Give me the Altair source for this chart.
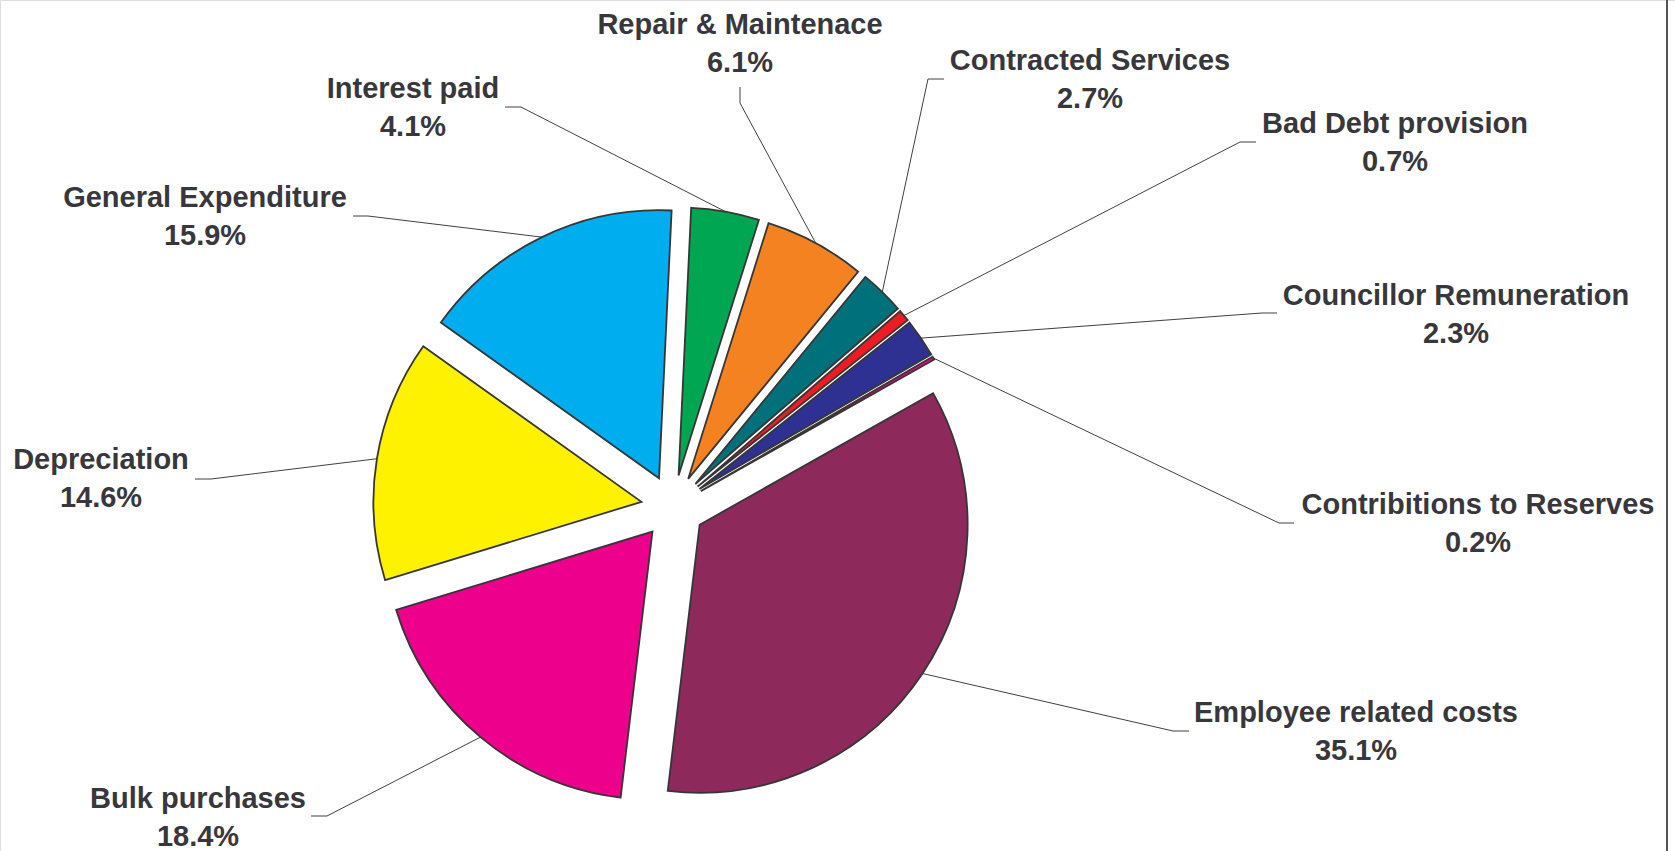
import altair as alt
import pandas as pd

# Expenditure categories, clockwise from twelve o'clock, and their shares (%)
categories = [
    "Interest paid",
    "Repair & Maintenace",
    "Contracted Services",
    "Bad Debt provision",
    "Councillor Remuneration",
    "Contribitions to Reserves",
    "Employee related costs",
    "Bulk purchases",
    "Depreciation",
    "General Expenditure",
]
shares = [4.1, 6.1, 2.7, 0.7, 2.3, 0.2, 35.1, 18.4, 14.6, 15.9]
colors = [
    "#00A651", "#F58220", "#00717A", "#ED1C24", "#2E3192",
    "#EC008C", "#8E295C", "#EC008C", "#FFF200", "#00AEEF",
]

# Layout: label centre x and first-line baseline, in pixels
label_x = [413, 740, 1090, 1395, 1456, 1478, 1356, 198, 101, 205]
label_y = [98, 34, 70, 133, 305, 514, 722, 808, 469, 207]
# Leader line: label-side end (ax, ay) and elbow (bx, by)
anchor_x = [505, 740, 944, 1256, 1277, 1294, 1189, 311, 195, 353]
anchor_y = [107, 87, 79, 142, 313, 523, 731, 816, 479, 216]
elbow_x = [521, 740, 928, 1240, 1262, 1279, 1173, 327, 211, 368]
elbow_y = [107, 103, 79, 142, 313, 523, 731, 816, 479, 216]

W, H = 1675, 851
CX, CY = 673, 507        # pie centre
R = 268                  # slice radius
EXPLODE = 32             # distance each slice is pulled out
ROT = 0.047              # first slice angle (radians, clockwise from top)
LINE_GAP = 37.5
FONT = "Liberation Sans"
TEXT_COLOR = "#37373c"

df = pd.DataFrame({
    "name": categories,
    "share": shares,
    "order": list(range(len(categories))),
    "lx": label_x, "ly": label_y,
    "ax": anchor_x, "ay": anchor_y,
    "bx": elbow_x, "by": elbow_y,
})

base = (
    alt.Chart(df)
    .transform_joinaggregate(total="sum(share)")
    .transform_window(cum="sum(share)", sort=[alt.SortField("order")])
    .transform_calculate(
        t1=f"{ROT} + 2*PI*datum.cum/datum.total",
        t0="datum.t1 - 2*PI*datum.share/datum.total",
        mid="(datum.t0 + datum.t1)/2",
        cx=f"{CX} + {EXPLODE}*sin(datum.mid)",
        cy=f"{CY} - {EXPLODE}*cos(datum.mid)",
        px=f"{CX} + {EXPLODE + R}*sin(datum.mid)",
        py=f"{CY} - {EXPLODE + R}*cos(datum.mid)",
        pct="format(datum.share, '.1f') + '%'",
        ly2=f"datum.ly + {LINE_GAP}",
    )
)

leader_outer = base.mark_rule(color="#404040", strokeWidth=1).encode(
    x=alt.X("px:Q", scale=None), y=alt.Y("py:Q", scale=None),
    x2="bx:Q", y2="by:Q",
)
leader_inner = base.mark_rule(color="#404040", strokeWidth=1).encode(
    x=alt.X("bx:Q", scale=None), y=alt.Y("by:Q", scale=None),
    x2="ax:Q", y2="ay:Q",
)

slices = base.mark_arc(
    outerRadius=R, stroke="#363636", strokeWidth=1.8, strokeJoin="miter"
).encode(
    theta=alt.Theta("t0:Q", scale=None, stack=False),
    theta2="t1:Q",
    x=alt.X("cx:Q", scale=None),
    y=alt.Y("cy:Q", scale=None),
    color=alt.Color(
        "name:N",
        scale=alt.Scale(domain=categories, range=colors),
        legend=None,
    ),
)

names = base.mark_text(
    font=FONT, fontSize=29, fontWeight="bold", color=TEXT_COLOR,
    align="center", baseline="alphabetic",
).encode(
    x=alt.X("lx:Q", scale=None), y=alt.Y("ly:Q", scale=None), text="name:N",
)
values = base.mark_text(
    font=FONT, fontSize=29, fontWeight="bold", color=TEXT_COLOR,
    align="center", baseline="alphabetic",
).encode(
    x=alt.X("lx:Q", scale=None), y=alt.Y("ly2:Q", scale=None), text="pct:N",
)

# Right-hand edge of the chart frame
frame_edge = alt.Chart(pd.DataFrame({"k": [0]})).mark_rule(
    color="#555555", strokeWidth=2
).encode(x=alt.value(W - 8), y=alt.value(0), y2=alt.value(H))

chart = (
    alt.layer(leader_outer, leader_inner, slices, names, values, frame_edge)
    .properties(width=W, height=H, autosize=alt.AutoSizeParams(type="none"), padding=0)
    .configure_view(stroke=None)
    .configure(background="white")
)

chart.save("out.html", embed_options={"renderer": "svg", "actions": False})
